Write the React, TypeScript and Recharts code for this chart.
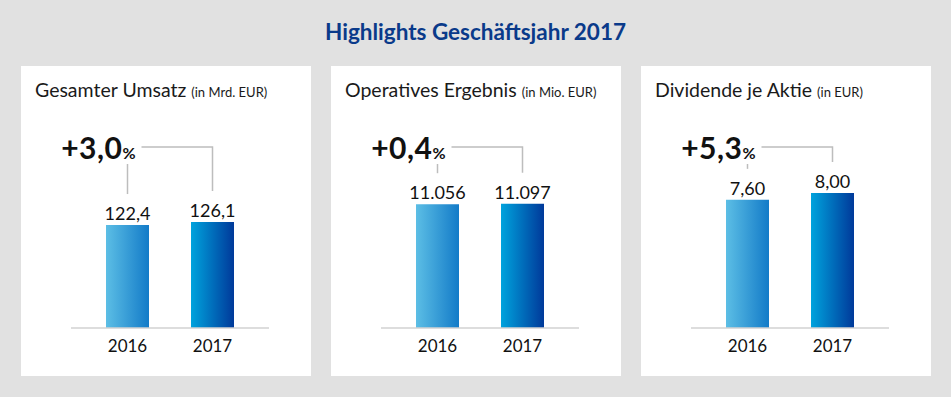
import { BarChart, Bar, XAxis, YAxis, Cell, LabelList } from 'recharts';

const years = ['2016', '2017'];
const umsatz = [122.4, 126.1];
const ergebnis = [11056, 11097];
const dividende = [7.6, 8.0];
const changes = ['+3,0', '+0,4', '+5,3'];

const PANEL_W = 290;
const PANEL_H = 310;
const MARGIN = { top: 74, right: 42, bottom: 18, left: 50 };
const PAD = 14;
const STEP = (PANEL_W - MARGIN.left - MARGIN.right - 2 * PAD) / 2;
const LINE = '#bdbdbd';
const FONT = 'Lato, "Open Sans", sans-serif';

// german number format: 11.056 / 122,4 / 7,60
const fmtDe = (decimals: number) => (v: number) => {
  const [int, dec] = v.toFixed(decimals).split('.');
  const grouped = int.replace(/\B(?=(\d{3})+(?!\d))/g, '.');
  return dec ? `${grouped},${dec}` : grouped;
};

interface PanelDef {
  id: string;
  title: string;
  unit: string;
  values: number[];
  max: number;
  fmt: (v: number) => string;
  change: string;
}

const panels: PanelDef[] = [
  { id: 'u', title: 'Gesamter Umsatz', unit: '(in Mrd. EUR)', values: umsatz, max: 223.5, fmt: fmtDe(1), change: changes[0] },
  { id: 'e', title: 'Operatives Ergebnis', unit: '(in Mio. EUR)', values: ergebnis, max: 16790, fmt: fmtDe(0), change: changes[1] },
  { id: 'd', title: 'Dividende je Aktie', unit: '(in EUR)', values: dividende, max: 11.15, fmt: fmtDe(2), change: changes[2] },
];

const makeLabel = (fmt: (v: number) => string, change: string) => (props: any) => {
  const box = props.viewBox && props.viewBox.width != null ? props.viewBox : props;
  const { x, y, width } = box;
  const { index, value } = props;
  const cx = x + width / 2;
  const top = MARGIN.top;
  return (
    <g>
      <text x={cx} y={y - 5} textAnchor="middle" fontSize={18} fill="#111" fontFamily={FONT}>
        {fmt(Number(value))}
      </text>
      {index === 0 ? (
        <g>
          <line x1={cx} x2={cx} y1={top + 24} y2={y - 31} stroke={LINE} strokeWidth={1.5} />
          <text x={cx + 8} y={top + 19} textAnchor="end" fill="#111" fontFamily={FONT} fontWeight={700}>
            <tspan fontSize={30} letterSpacing={0.5}>{change}</tspan>
            <tspan fontSize={16}>%</tspan>
          </text>
        </g>
      ) : (
        <polyline
          points={`${cx - STEP + 14},${top + 7} ${cx},${top + 7} ${cx},${y - 31}`}
          fill="none"
          stroke={LINE}
          strokeWidth={1.5}
        />
      )}
    </g>
  );
};

function Panel({ p, left }: { p: PanelDef; left: number }) {
  const data = years.map((year, i) => ({ year, value: p.values[i] }));
  return (
    <div style={{ position: 'absolute', left, top: 66, width: PANEL_W, height: PANEL_H, background: '#fff' }}>
      <div style={{ position: 'absolute', left: 14, top: 14, lineHeight: 1, whiteSpace: 'nowrap', color: '#1a1a1a', fontFamily: FONT }}>
        <span style={{ fontSize: 19.5 }}>{p.title}</span>
        <span style={{ fontSize: 13, marginLeft: 5 }}>{p.unit}</span>
      </div>
      <BarChart width={PANEL_W} height={PANEL_H} data={data} margin={MARGIN}>
        <defs>
          <linearGradient id={`${p.id}-g0`} x1="0" y1="0" x2="1" y2="0">
            <stop offset="0%" stopColor="#5cbee5" />
            <stop offset="100%" stopColor="#137bc8" />
          </linearGradient>
          <linearGradient id={`${p.id}-g1`} x1="0" y1="0" x2="1" y2="0">
            <stop offset="0%" stopColor="#00a3dd" />
            <stop offset="100%" stopColor="#00399a" />
          </linearGradient>
        </defs>
        <XAxis
          dataKey="year"
          padding={{ left: PAD, right: PAD }}
          axisLine={{ stroke: '#d2d2d2', strokeWidth: 1.5 }}
          tickLine={false}
          tickSize={0}
          tickMargin={12}
          height={30}
          tick={{ fill: '#111', fontSize: 17, fontFamily: FONT }}
        />
        <YAxis hide domain={[0, p.max]} />
        <Bar dataKey="value" barSize={43} isAnimationActive={false}>
          {data.map((_, i) => (
            <Cell key={i} fill={`url(#${p.id}-g${i})`} />
          ))}
          <LabelList dataKey="value" content={makeLabel(p.fmt, p.change)} />
        </Bar>
      </BarChart>
    </div>
  );
}

export default function App() {
  return (
    <div style={{ position: 'absolute', left: 0, top: 0, width: 951, height: 397, background: '#e1e1e1', fontFamily: FONT }}>
      <div
        style={{
          position: 'absolute',
          left: 0,
          width: 951,
          top: 21,
          textAlign: 'center',
          fontSize: 22.5,
          fontWeight: 700,
          lineHeight: 1,
          color: '#0a3a8a',
        }}
      >
        Highlights Geschäftsjahr 2017
      </div>
      {panels.map((p, i) => (
        <Panel key={p.id} p={p} left={21 + i * 310} />
      ))}
    </div>
  );
}
